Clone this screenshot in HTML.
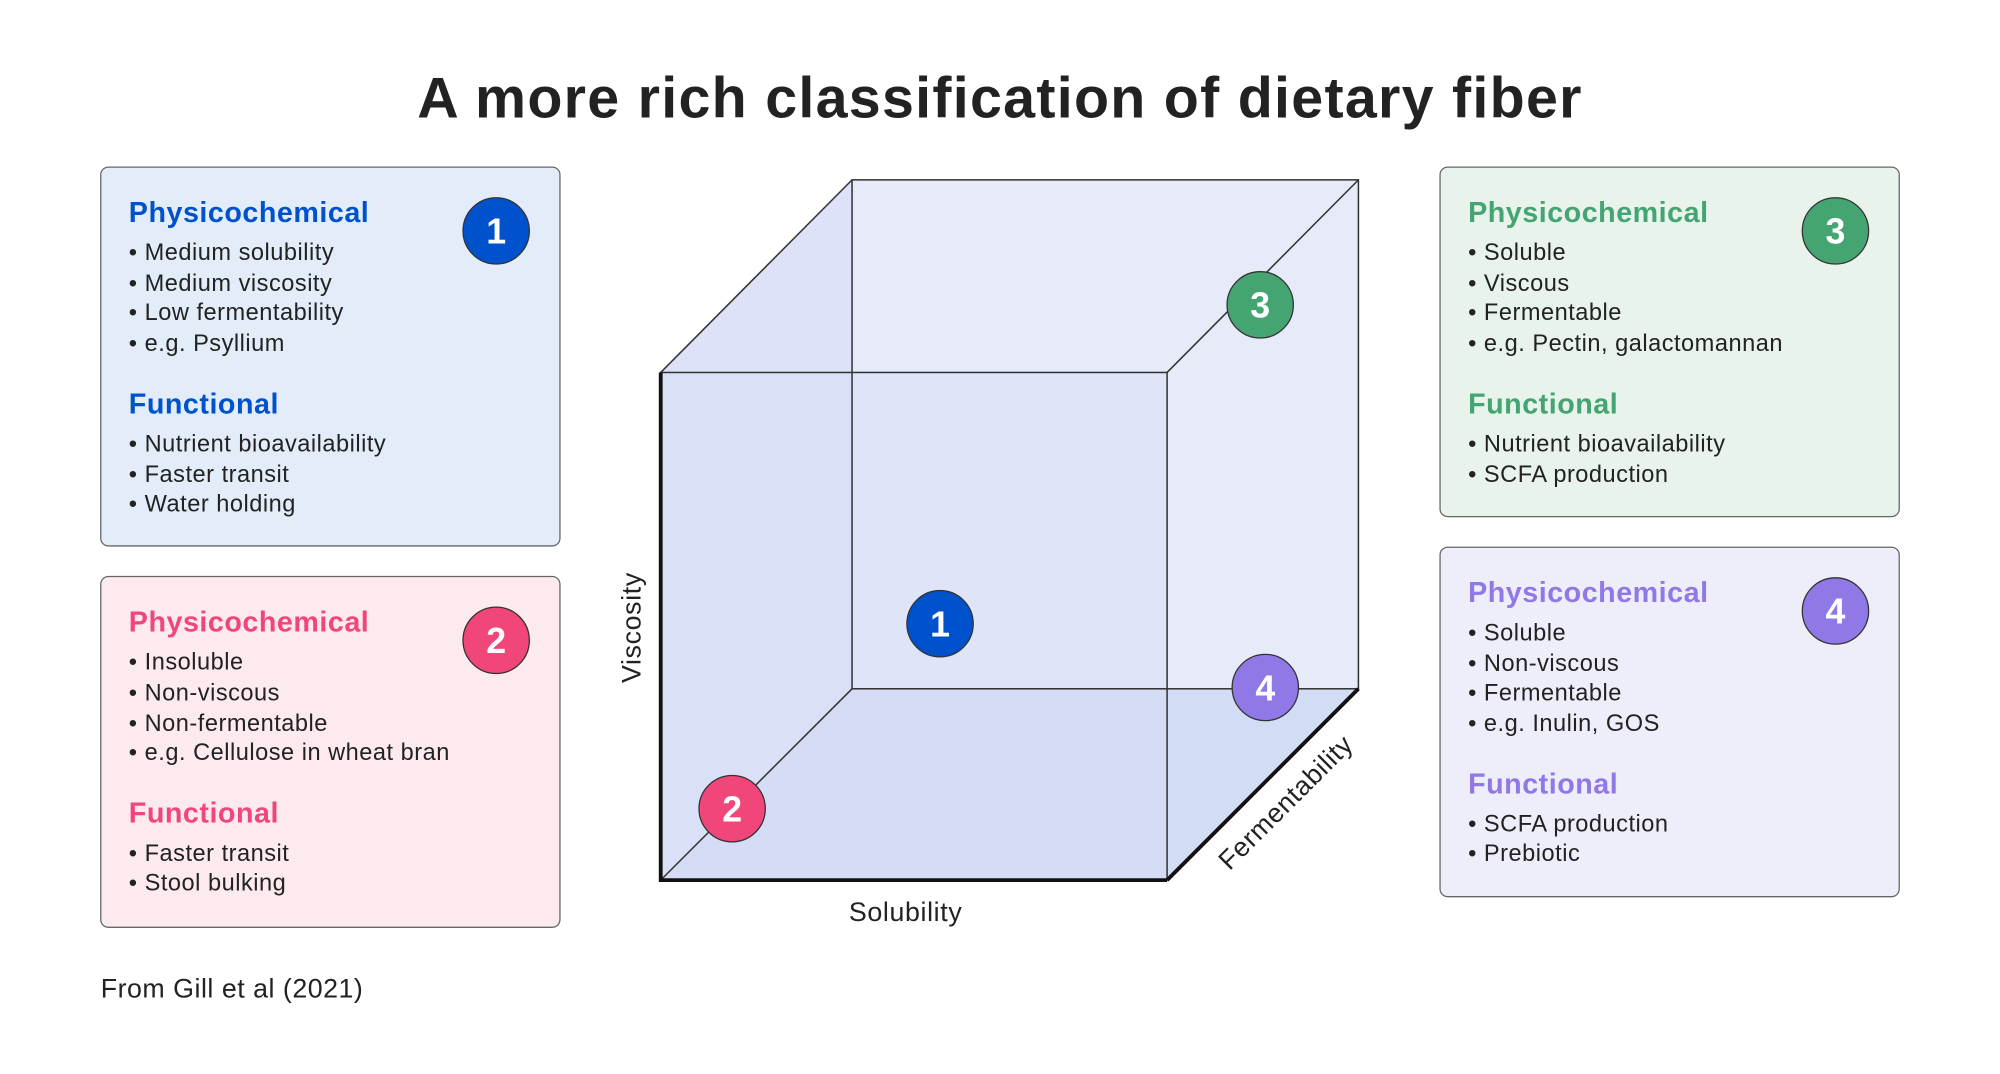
<!DOCTYPE html>
<html><head><meta charset="utf-8"><style>html,body{margin:0;padding:0;background:#fff}svg{display:block}</style></head><body>
<svg width="2000" height="1074" viewBox="0 0 1568 842" xmlns="http://www.w3.org/2000/svg" font-family="Liberation Sans, sans-serif">
<rect width="1568" height="842" fill="#fff"/>
<text x="784" y="92" text-anchor="middle" font-size="45" font-weight="bold" fill="#222" letter-spacing="1">A more rich classification of dietary fiber</text>

<polygon points="518,292 668,141 1065,141 1065,540 915,690 518,690" fill="#e6eaf9"/>
<polygon points="518,292 668,141 668,540 518,690" fill="#dde2f8"/>
<polygon points="518,690 915,690 1065,540 668,540" fill="#d3dcf5"/>
<rect x="518" y="292" width="397" height="398" fill="#d8def7" fill-opacity="0.5"/>
<g stroke="#333" stroke-width="1.2" fill="none">
<rect x="668" y="141" width="397" height="399"/>
<rect x="518" y="292" width="397" height="398"/>
<line x1="518" y1="292" x2="668" y2="141"/><line x1="915" y1="292" x2="1065" y2="141"/>
<line x1="518" y1="690" x2="668" y2="540"/><line x1="915" y1="690" x2="1065" y2="540"/>
</g>
<polyline points="518,292 518,690 915,690" stroke="#111" stroke-width="3" fill="none"/>
<line x1="915" y1="690" x2="1065" y2="540" stroke="#111" stroke-width="3"/>
<text x="710" y="722" text-anchor="middle" font-size="21" fill="#222" letter-spacing="0.5">Solubility</text>
<text transform="translate(502,492) rotate(-90)" text-anchor="middle" font-size="21" fill="#222" letter-spacing="0.5">Viscosity</text>
<text transform="translate(1013,634) rotate(-45)" text-anchor="middle" font-size="21" fill="#222" letter-spacing="0.5">Fermentability</text>
<g stroke="#333" stroke-width="1">
<circle cx="737" cy="489" r="26" fill="#0052cc"/><circle cx="574" cy="634" r="26" fill="#f0467a"/>
<circle cx="988" cy="239" r="26" fill="#44a572"/><circle cx="992" cy="539" r="26" fill="#9078e6"/>
</g>
<g font-size="28" font-weight="bold" fill="#fff" text-anchor="middle">
<text x="737" y="499">1</text><text x="574" y="644">2</text><text x="988" y="249">3</text><text x="992" y="549">4</text>
</g>

<g stroke="#666" stroke-width="1">
<rect x="79" y="131" width="360" height="297" rx="6" fill="#e3edf9"/>
<rect x="79" y="452" width="360" height="275" rx="6" fill="#fdeaef"/>
<rect x="1129" y="131" width="360" height="274" rx="6" fill="#e8f3ec"/>
<rect x="1129" y="429" width="360" height="274" rx="6" fill="#eeedfa"/>
<circle cx="389" cy="181" r="26" fill="#0052cc" stroke="#333"/>
<circle cx="389" cy="502" r="26" fill="#f0467a" stroke="#333"/>
<circle cx="1439" cy="181" r="26" fill="#44a572" stroke="#333"/>
<circle cx="1439" cy="479" r="26" fill="#9078e6" stroke="#333"/>
</g>
<g font-size="28" font-weight="bold" fill="#fff" text-anchor="middle">
<text x="389" y="191">1</text><text x="389" y="512">2</text><text x="1439" y="191">3</text><text x="1439" y="489">4</text>
</g>
<g font-size="18.5" fill="#222" letter-spacing="0.4">
<text x="101" y="174" font-size="22.5" font-weight="bold" fill="#0052cc">Physicochemical</text>
<text x="101" y="204">• Medium solubility</text><text x="101" y="228">• Medium viscosity</text><text x="101" y="251">• Low fermentability</text><text x="101" y="275">• e.g. Psyllium</text>
<text x="101" y="324" font-size="22.5" font-weight="bold" fill="#0052cc">Functional</text>
<text x="101" y="354">• Nutrient bioavailability</text><text x="101" y="378">• Faster transit</text><text x="101" y="401">• Water holding</text>

<text x="101" y="495" font-size="22.5" font-weight="bold" fill="#f0467a">Physicochemical</text>
<text x="101" y="525">• Insoluble</text><text x="101" y="549">• Non-viscous</text><text x="101" y="573">• Non-fermentable</text><text x="101" y="596">• e.g. Cellulose in wheat bran</text>
<text x="101" y="645" font-size="22.5" font-weight="bold" fill="#f0467a">Functional</text>
<text x="101" y="675">• Faster transit</text><text x="101" y="698">• Stool bulking</text>

<text x="1151" y="174" font-size="22.5" font-weight="bold" fill="#44a572">Physicochemical</text>
<text x="1151" y="204">• Soluble</text><text x="1151" y="228">• Viscous</text><text x="1151" y="251">• Fermentable</text><text x="1151" y="275">• e.g. Pectin, galactomannan</text>
<text x="1151" y="324" font-size="22.5" font-weight="bold" fill="#44a572">Functional</text>
<text x="1151" y="354">• Nutrient bioavailability</text><text x="1151" y="378">• SCFA production</text>

<text x="1151" y="472" font-size="22.5" font-weight="bold" fill="#9078e6">Physicochemical</text>
<text x="1151" y="502">• Soluble</text><text x="1151" y="526">• Non-viscous</text><text x="1151" y="549">• Fermentable</text><text x="1151" y="573">• e.g. Inulin, GOS</text>
<text x="1151" y="622" font-size="22.5" font-weight="bold" fill="#9078e6">Functional</text>
<text x="1151" y="652">• SCFA production</text><text x="1151" y="675">• Prebiotic</text>
</g>
<text x="79" y="782" font-size="21" fill="#222" letter-spacing="0.4">From Gill et al (2021)</text>
</svg>
</body></html>
